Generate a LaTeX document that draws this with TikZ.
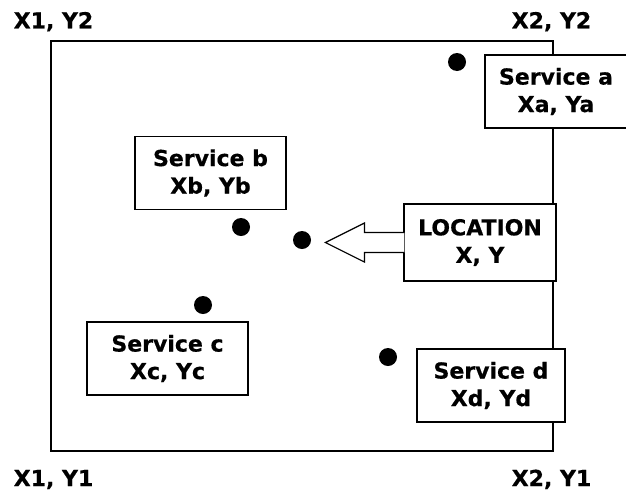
\documentclass[tikz,border=0pt]{standalone}
\usepackage{fontspec}
\setmainfont{DejaVu Sans}[BoldFeatures={FakeBold=0.5}]
\begin{document}
\begin{tikzpicture}[
  x=1pt, y=-1pt,
  every node/.style={font=\bfseries\fontsize{22}{27.5}\selectfont},
  corner/.style={anchor=base, inner sep=0pt},
  service/.style={draw, fill=white, line width=1.2pt, align=center, minimum height=73pt, inner sep=0pt},
  spot/.style={circle, fill=black, inner sep=0pt, minimum size=18pt},
  edge/.style={line width=1.2pt}
]
\useasboundingbox (0,0) rectangle (626,493);
\draw[edge] (51,41) rectangle (553,451);
\node[corner] (x1y2) at (53.5,28.3)  {X1, Y2};
\node[corner] (x2y2) at (551.5,28.3) {X2, Y2};
\node[corner] (x1y1) at (53.5,486)   {X1, Y1};
\node[corner] (x2y1) at (551.5,486)  {X2, Y1};
\node[spot] (dota)   at (457,62)  {};
\node[spot] (dotb)   at (241,227) {};
\node[spot] (dotloc) at (302,240) {};
\node[spot] (dotc)   at (203,305) {};
\node[spot] (dotd)   at (388,357) {};
\node[service, minimum width=142pt] (srva) at (556,91.5)  {Service a\\Xa, Ya};
\node[service, minimum width=151pt] (srvb) at (210.5,173) {Service b\\Xb, Yb};
\node[service, minimum width=161pt] (srvc) at (167.5,358.5) {Service c\\Xc, Yc};
\node[service, minimum width=148pt] (srvd) at (491,385.5) {Service d\\Xd, Yd};
\node[service, minimum width=152pt, minimum height=77pt] (loc) at (480,242.5) {LOCATION\\X, Y};
\draw[edge, fill=white] ([shift={(1,10)}]loc.west) -- ++(-40,0) -- ++(0,9.5) -- ++(-39,-19.5)
  -- ++(39,-19.5) -- ++(0,9.5) -- ++(40,0);
\end{tikzpicture}
\end{document}
